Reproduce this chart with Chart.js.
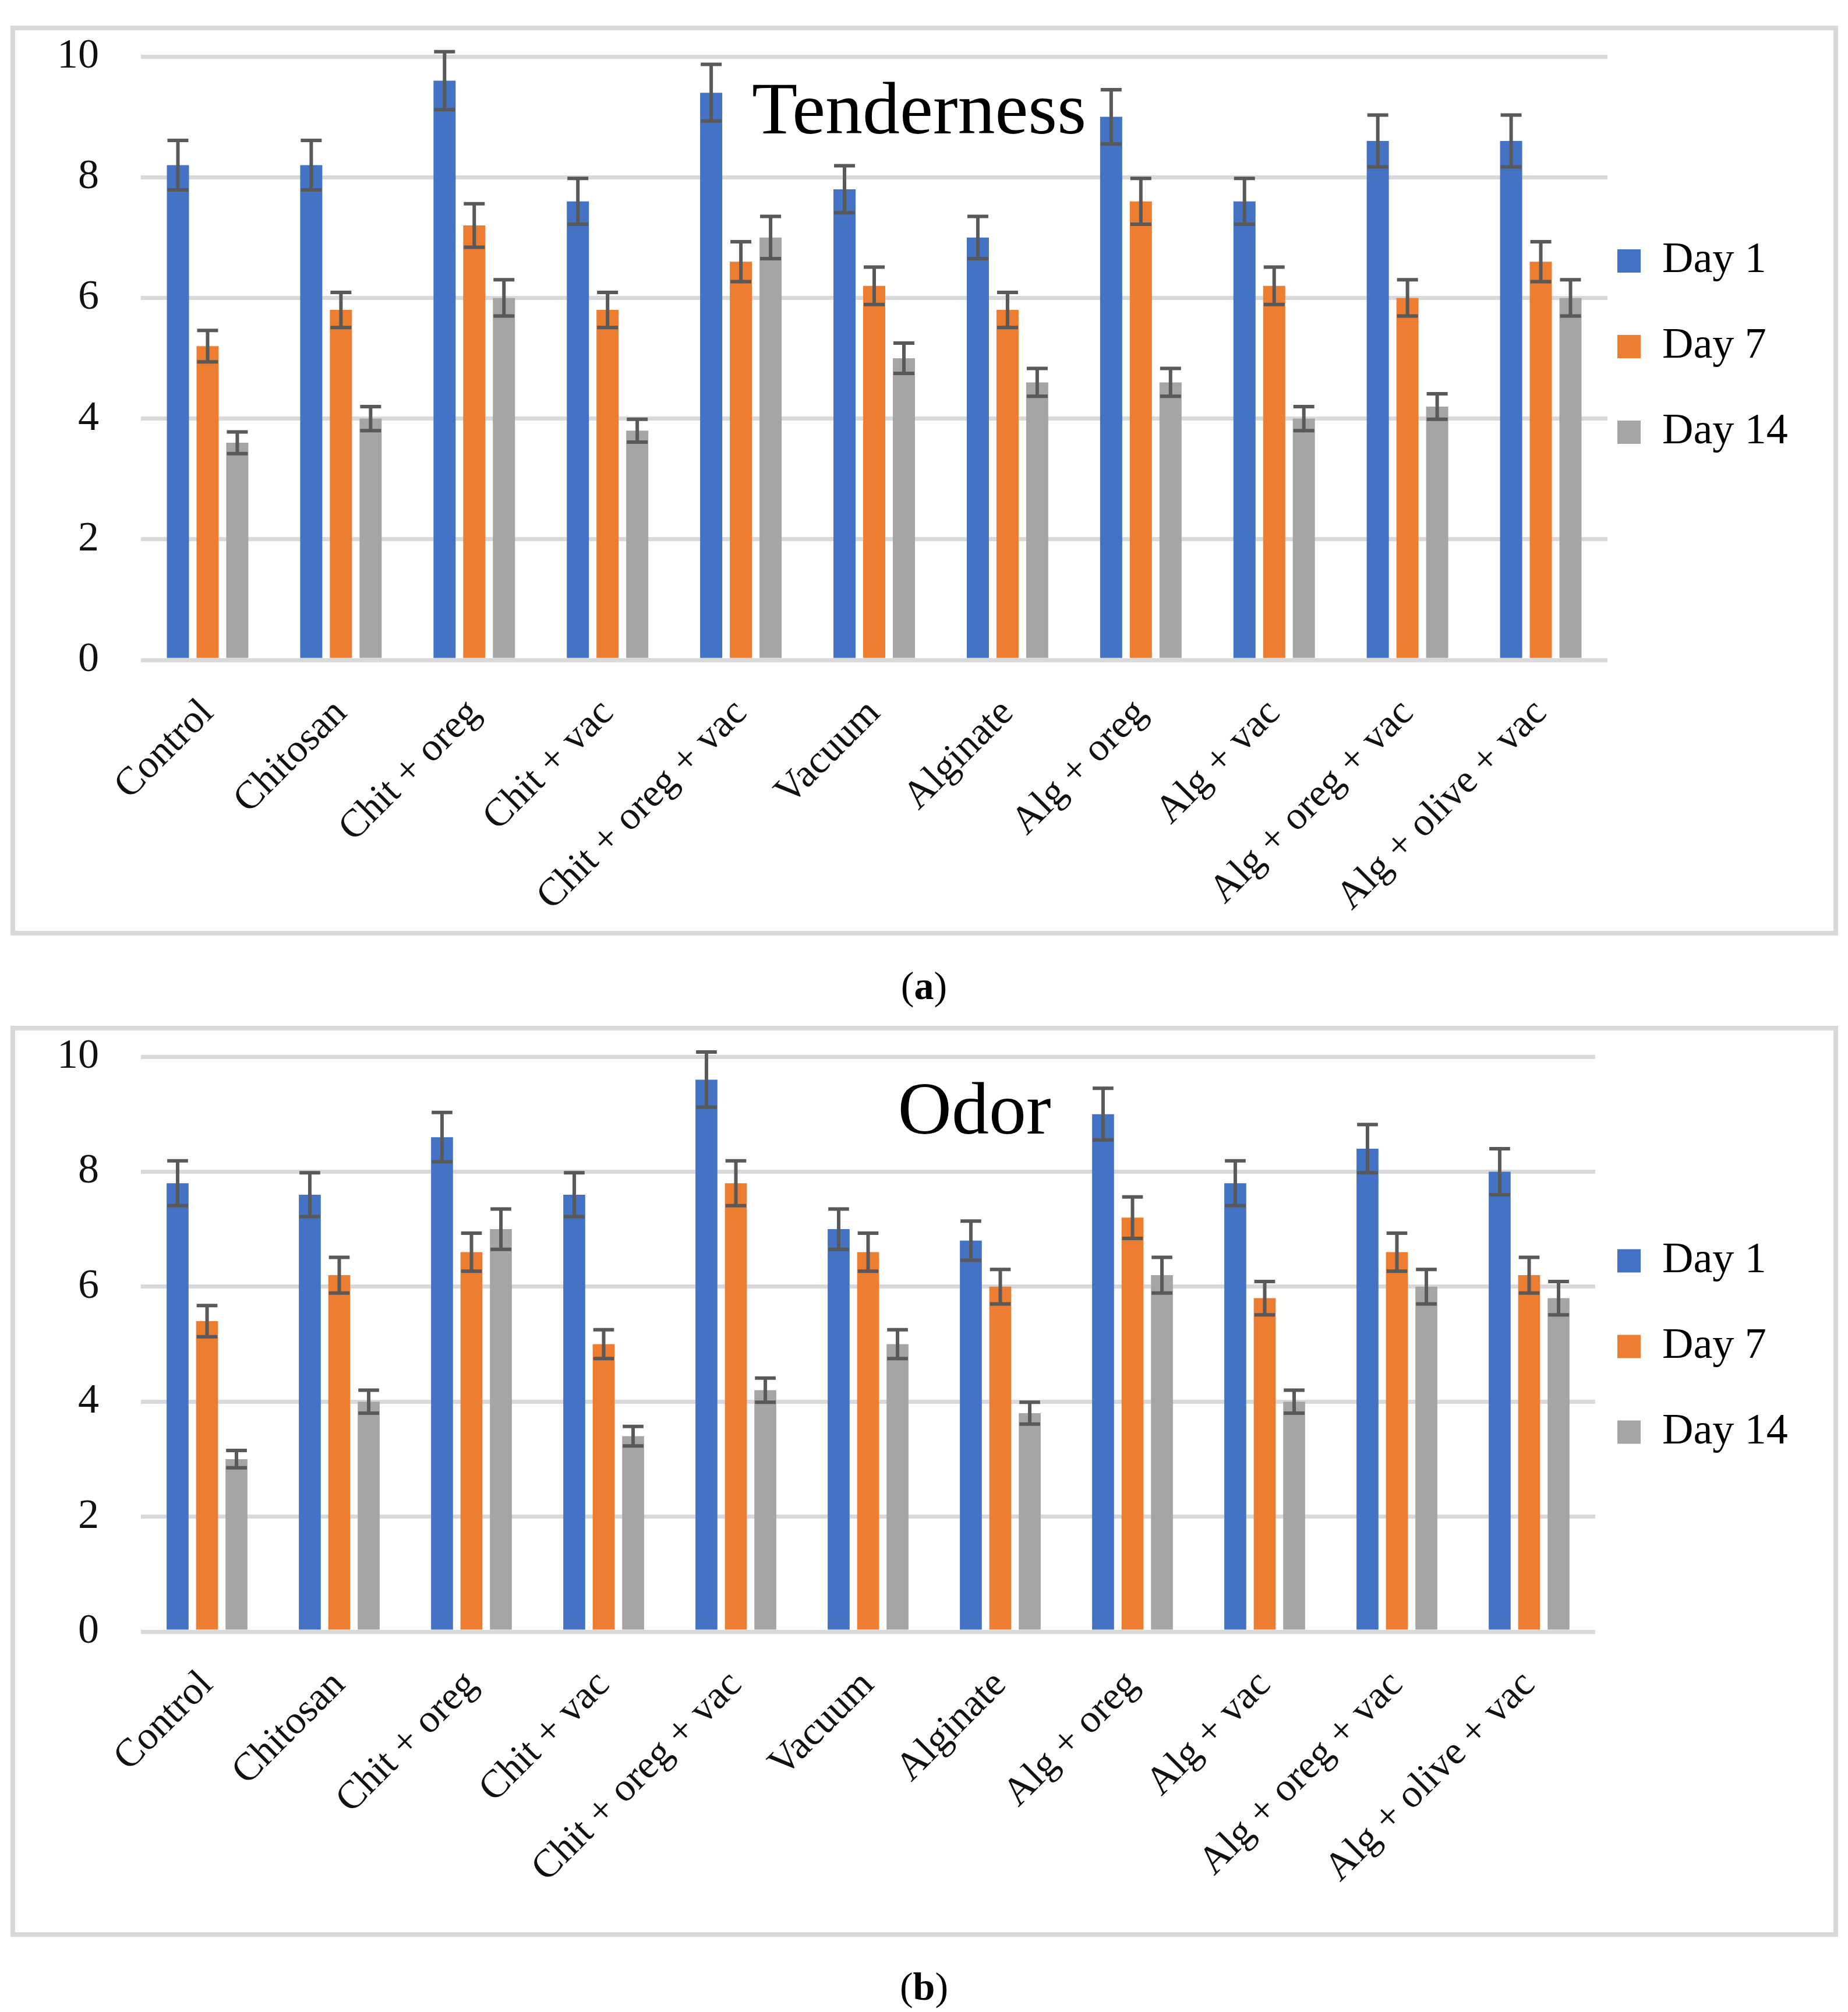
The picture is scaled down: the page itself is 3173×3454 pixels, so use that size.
<!DOCTYPE html>
<html>
<head>
<meta charset="utf-8">
<title>Tenderness and Odor</title>
<script src="https://cdn.jsdelivr.net/npm/chart.js@4.4.1/dist/chart.umd.min.js"></script>
<style>
  html, body { margin: 0; padding: 0; background: #fff; }
  body { width: 3173px; height: 3454px; position: relative; overflow: hidden; }
  .panel { position: absolute; left: 18px; width: 3122px; border: 8px solid #d9d9d9; background: #fff; }
  #panel_a { top: 44px; height: 1546px; }
  #panel_b { top: 1761px; height: 1548px; }
  canvas { display: block; }
  .caption { position: absolute; left: 0; width: 3173px; text-align: center;
             font-family: 'Liberation Serif', serif; font-size: 68px; line-height: 68px; color: #000; }
</style>
</head>
<body>
<div class="panel" id="panel_a"><canvas id="my_chart_1" width="3122" height="1546"></canvas></div>
<div class="caption" style="top:1658px;">(<b>a</b>)</div>
<div class="panel" id="panel_b"><canvas id="my_chart_2" width="3122" height="1548"></canvas></div>
<div class="caption" style="top:3376px;">(<b>b</b>)</div>

<script>
// categories and series
var categories = ['Control', 'Chitosan', 'Chit + oreg', 'Chit + vac', 'Chit + oreg + vac', 'Vacuum',
                  'Alginate', 'Alg + oreg', 'Alg + vac', 'Alg + oreg + vac', 'Alg + olive + vac'];
var seriesNames = ['Day 1', 'Day 7', 'Day 14'];
var yTickValues = [0, 2, 4, 6, 8, 10];

// (a) Tenderness
var tenderDay1  = [8.2, 8.2, 9.6, 7.6, 9.4, 7.8, 7.0, 9.0, 7.6, 8.6, 8.6];
var tenderDay7  = [5.2, 5.8, 7.2, 5.8, 6.6, 6.2, 5.8, 7.6, 6.2, 6.0, 6.6];
var tenderDay14 = [3.6, 4.0, 6.0, 3.8, 7.0, 5.0, 4.6, 4.6, 4.0, 4.2, 6.0];
var tenderErr1  = [0.41, 0.41, 0.48, 0.38, 0.47, 0.39, 0.35, 0.45, 0.38, 0.43, 0.43];
var tenderErr7  = [0.26, 0.29, 0.36, 0.29, 0.33, 0.31, 0.29, 0.38, 0.31, 0.30, 0.33];
var tenderErr14 = [0.18, 0.20, 0.30, 0.19, 0.35, 0.25, 0.23, 0.23, 0.20, 0.21, 0.30];

// (b) Odor
var odorDay1  = [7.8, 7.6, 8.6, 7.6, 9.6, 7.0, 6.8, 9.0, 7.8, 8.4, 8.0];
var odorDay7  = [5.4, 6.2, 6.6, 5.0, 7.8, 6.6, 6.0, 7.2, 5.8, 6.6, 6.2];
var odorDay14 = [3.0, 4.0, 7.0, 3.4, 4.2, 5.0, 3.8, 6.2, 4.0, 6.0, 5.8];
var odorErr1  = [0.39, 0.38, 0.43, 0.38, 0.48, 0.35, 0.34, 0.45, 0.39, 0.42, 0.40];
var odorErr7  = [0.27, 0.31, 0.33, 0.25, 0.39, 0.33, 0.30, 0.36, 0.29, 0.33, 0.31];
var odorErr14 = [0.15, 0.20, 0.35, 0.17, 0.21, 0.25, 0.19, 0.31, 0.20, 0.30, 0.29];

(function() {
  'use strict';

  var FONT = 'Liberation Serif';
  Chart.defaults.font.family = FONT;

  // error bars, drawn on top of the bars
  var errorBars = {
    id: 'errorBars',
    afterDatasetsDraw: function(chart) {
      var ctx = chart.ctx;
      var yScale = chart.scales.y;
      ctx.save();
      ctx.strokeStyle = '#595959';
      ctx.lineWidth = 6;
      chart.data.datasets.forEach(function(ds, i) {
        var meta = chart.getDatasetMeta(i);
        meta.data.forEach(function(bar, j) {
          var top = yScale.getPixelForValue(ds.data[j] + ds.errors[j]);
          var bot = yScale.getPixelForValue(ds.data[j] - ds.errors[j]);
          var half = bar.width / 2 - 1;
          ctx.beginPath();
          ctx.moveTo(bar.x, top);
          ctx.lineTo(bar.x, bot);
          ctx.moveTo(bar.x - half, top);
          ctx.lineTo(bar.x + half, top);
          ctx.moveTo(bar.x - half, bot);
          ctx.lineTo(bar.x + half, bot);
          ctx.stroke();
        });
      });
      ctx.restore();
    }
  };

  // move the legend a little closer to the plot (and give its text room)
  var legendNudge = {
    id: 'legendNudge',
    afterLayout: function(chart, args, opts) {
      var lg = chart.legend;
      if (!lg) return;
      lg.left += opts.dx;
      lg.right = lg.left + 420;
      lg.width = 420;
      lg.top += opts.dy; lg.bottom += opts.dy;
    }
  };

  // big title written inside the plot
  var panelTitle = {
    id: 'panelTitle',
    afterDraw: function(chart, args, opts) {
      var ctx = chart.ctx;
      ctx.save();
      ctx.font = '128px "' + FONT + '"';
      ctx.fillStyle = '#000';
      ctx.textAlign = 'center';
      ctx.textBaseline = 'middle';
      ctx.fillText(opts.text, opts.x, opts.y);
      ctx.restore();
    }
  };

  function make_chart(canvas_id, day1, day7, day14, err1, err7, err14, lay) {
    var config = {
      type: 'bar',
      data: {
        labels: categories,
        datasets: [
          { label: seriesNames[0], data: day1, errors: err1, backgroundColor: '#4472c4' },
          { label: seriesNames[1], data: day7, errors: err7, backgroundColor: '#ed7d31' },
          { label: seriesNames[2], data: day14, errors: err14, backgroundColor: '#a5a5a5' }
        ]
      },
      options: {
        responsive: false,
        animation: false,
        devicePixelRatio: 1,
        datasets: { bar: { categoryPercentage: 0.668, barPercentage: 0.745 } },
        layout: { padding: { left: 0, top: lay.top, right: lay.right, bottom: 0 } },
        scales: {
          x: {
            grid: { display: false },
            border: { display: false },
            ticks: {
              autoSkip: false, minRotation: 45, maxRotation: 45, padding: 44,
              color: '#111', font: { family: FONT, size: 68 }
            },
            afterFit: function(scale) { scale.height = lay.xHeight; }
          },
          y: {
            min: yTickValues[0],
            max: yTickValues[yTickValues.length - 1],
            ticks: { stepSize: 2, padding: 72, color: '#111', font: { family: FONT, size: 72 } },
            grid: { color: '#d9d9d9', lineWidth: 7, drawTicks: false },
            border: { display: false },
            afterFit: function(scale) {
              scale.width = 216;
              scale.paddingTop = 0;
              scale.paddingBottom = 0;
            }
          }
        },
        plugins: {
          legend: {
            position: 'right',
            fullSize: false,
            maxWidth: 300,
            labels: { boxWidth: 40, boxHeight: 40, padding: 73, color: '#000', font: { family: FONT, size: 74 } }
          },
          tooltip: { enabled: false },
          legendNudge: { dx: lay.dx, dy: lay.dy },
          panelTitle: { text: lay.title, x: lay.titleX, y: lay.titleY }
        }
      },
      plugins: [errorBars, legendNudge, panelTitle]
    };
    var ctx = document.getElementById(canvas_id).getContext('2d');
    return new Chart(ctx, config);
  }

  make_chart('my_chart_1', tenderDay1, tenderDay7, tenderDay14, tenderErr1, tenderErr7, tenderErr14,
    { top: 45, right: 88, xHeight: 465, dx: -56, dy: -20, title: 'Tenderness', titleX: 1552, titleY: 143 });

  make_chart('my_chart_2', odorDay1, odorDay7, odorDay14, odorErr1, odorErr7, odorErr14,
    { top: 45, right: 109, xHeight: 516, dx: -35, dy: 4, title: 'Odor', titleX: 1647, titleY: 143 });

})();
</script>
</body>
</html>
